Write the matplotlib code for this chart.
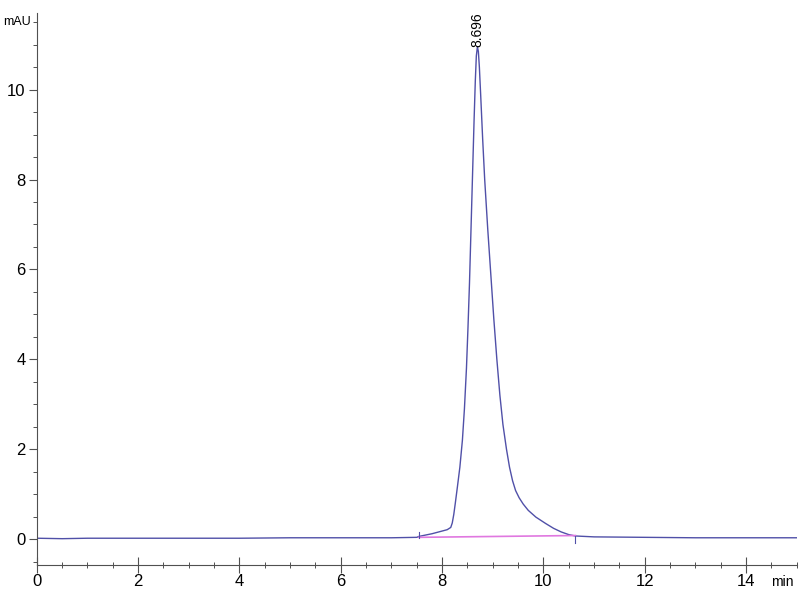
import matplotlib.pyplot as plt
from matplotlib.ticker import MultipleLocator
import numpy as np

plt.rcParams['font.family'] = ['Liberation Sans Narrow', 'Liberation Sans', 'DejaVu Sans']

# chromatogram trace (min, mAU)
time_min = [0.0, 0.5, 1.0, 2.0, 3.0, 4.0, 5.0, 6.0, 7.0, 7.5, 7.54, 7.8, 8.0, 8.1,
            8.17, 8.2, 8.23, 8.26, 8.3, 8.35, 8.4, 8.44, 8.48, 8.51, 8.54, 8.57,
            8.6, 8.63, 8.655, 8.675, 8.696, 8.715, 8.735, 8.76, 8.8, 8.84, 8.9,
            8.96, 9.02, 9.08, 9.14, 9.2, 9.27, 9.33, 9.39, 9.45, 9.52, 9.6, 9.7,
            9.85, 10.04, 10.2, 10.35, 10.5, 10.63, 11.0, 12.0, 13.0, 14.0, 15.0]
signal = [0.02, 0.01, 0.02, 0.02, 0.02, 0.02, 0.03, 0.03, 0.03, 0.04, 0.06, 0.12,
          0.18, 0.21, 0.26, 0.36, 0.55, 0.8, 1.15, 1.6, 2.2, 2.9, 3.8, 4.7, 5.7,
          6.9, 8.1, 9.3, 10.2, 10.75, 10.95, 10.85, 10.5, 9.9, 8.9, 8.0, 6.9, 5.9,
          4.9, 4.0, 3.2, 2.55, 2.0, 1.6, 1.3, 1.08, 0.92, 0.78, 0.64, 0.49, 0.35,
          0.24, 0.16, 0.1, 0.07, 0.05, 0.04, 0.03, 0.03, 0.03]

# integration baseline
base_x = [7.54, 10.63]
base_y = [0.04, 0.08]
peak_rt = 8.696
peak_h = 10.95

fig = plt.figure(figsize=(8, 6), dpi=100)
ax = fig.add_axes([0.046, 0.058, 0.95, 0.92])

ax.plot(time_min, signal, color='#5050a8', lw=1.0)
ax.plot(base_x, base_y, color='#e078e0', lw=1.2)
# integration start/end marks
ax.plot([base_x[0], base_x[0]], [0.02, 0.15], color='#5050a8', lw=0.8)
ax.plot([base_x[1], base_x[1]], [-0.08, 0.06], color='#5050a8', lw=0.8)

ax.text(peak_rt, peak_h, "8.696", rotation=90, ha='center', va='bottom',
        fontsize=10)

ax.set_xlim(0, 15)
ax.set_ylim(-0.58, 11.7)
ax.xaxis.set_minor_locator(MultipleLocator(0.5))
ax.yaxis.set_minor_locator(MultipleLocator(0.5))
ax.set_yticks(np.arange(0, 12, 2))
ax.set_xticks(np.arange(0, 15, 2))

for s in ['top', 'right']:
    ax.spines[s].set_visible(False)
for s in ['left', 'bottom']:
    ax.spines[s].set_color('#505050')
    ax.spines[s].set_linewidth(0.8)

ax.tick_params(axis='x', which='major', direction='inout', length=11, width=0.8,
               color='#505050', labelsize=12, pad=1)
ax.tick_params(axis='x', which='minor', direction='inout', length=5, width=0.7,
               color='#505050')
ax.tick_params(axis='y', which='major', direction='out', length=6, width=0.8,
               color='#505050', labelsize=12, pad=2)
ax.tick_params(axis='y', which='minor', direction='out', length=3, width=0.7,
               color='#505050')

ax.text(-0.12, 11.5, "mAU", ha='right', va='center', fontsize=9, clip_on=False)
ax.text(14.72, -0.8, "min", ha='center', va='top', fontsize=10, clip_on=False)

fig.savefig("out.png", dpi=100)
